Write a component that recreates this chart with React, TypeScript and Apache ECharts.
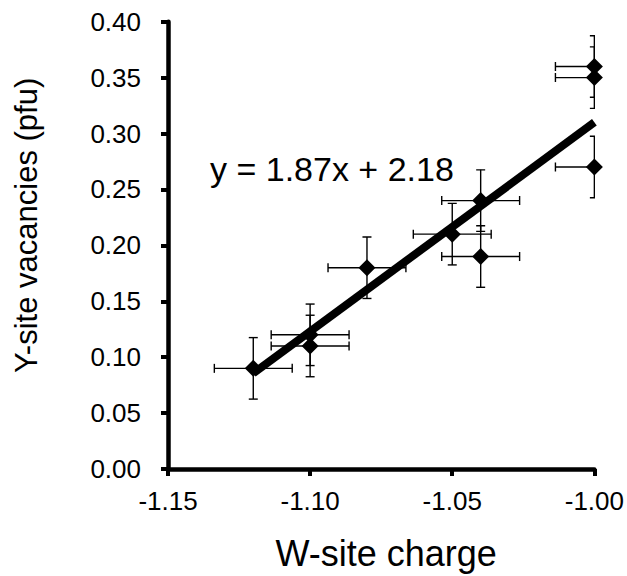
import React, { useEffect, useRef } from "react";
import * as echarts from "echarts";

const xValues = [-1.12, -1.1, -1.1, -1.08, -1.05, -1.04, -1.04, -1.0, -1.0, -1.0];
const yValues = [0.09, 0.12, 0.11, 0.18, 0.21, 0.24, 0.19, 0.36, 0.35, 0.27];
const xErrors = [0.0137, 0.0137, 0.0137, 0.0137, 0.0137, 0.0137, 0.0137, 0.0137, 0.0137, 0.0137];
const yErrors = [0.0275, 0.0275, 0.0275, 0.0275, 0.0275, 0.0275, 0.0275, 0.0275, 0.0275, 0.0275];
const fitLine = [
  [-1.12, 0.0856],
  [-1.0, 0.31],
];
const equationText = "y = 1.87x + 2.18";
const xTitle = "W-site charge";
const yTitle = "Y-site vacancies (pfu)";

const FONT = "'Liberation Sans', Arial, sans-serif";

export default function App() {
  const ref = useRef<HTMLDivElement>(null);
  useEffect(() => {
    if (!ref.current) return;
    const chart = echarts.init(ref.current, null, { renderer: "svg" });
    const points = xValues.map((x, i) => [x, yValues[i]]);
    const errData = xValues.map((x, i) => [x, yValues[i], xErrors[i], yErrors[i]]);
    chart.setOption({
      animation: false,
      backgroundColor: "#ffffff",
      grid: { left: 168, right: 32.5, top: 21.7, bottom: 105, containLabel: false },
      xAxis: {
        type: "value",
        min: -1.15,
        max: -1.0,
        interval: 0.05,
        name: xTitle,
        nameLocation: "middle",
        nameGap: 66,
        nameTextStyle: { fontFamily: FONT, fontSize: 36, color: "#000", padding: [0, 0, 0, 10] },
        axisLine: { onZero: false, lineStyle: { color: "#000", width: 4.5 } },
        axisTick: { inside: false, length: 7, lineStyle: { color: "#000", width: 4 } },
        axisLabel: {
          margin: 19,
          fontFamily: FONT,
          fontSize: 26,
          color: "#000",
          formatter: (v: number) => v.toFixed(2),
        },
        splitLine: { show: false },
      },
      yAxis: {
        type: "value",
        min: 0,
        max: 0.4,
        interval: 0.05,
        name: yTitle,
        nameLocation: "middle",
        nameRotate: 90,
        nameGap: 126,
        nameTextStyle: { fontFamily: FONT, fontSize: 31, color: "#000", padding: [0, 0, 0, 40] },
        axisLine: { onZero: false, lineStyle: { color: "#000", width: 4.5 } },
        axisTick: { inside: false, length: 7, lineStyle: { color: "#000", width: 4 } },
        axisLabel: {
          margin: 27,
          fontFamily: FONT,
          fontSize: 26,
          color: "#000",
          formatter: (v: number) => v.toFixed(2),
        },
        splitLine: { show: false },
      },
      series: [
        {
          type: "custom",
          clip: true,
          data: errData,
          encode: { x: 0, y: 1 },
          z: 2,
          renderItem: (params: any, api: any) => {
            const x = api.value(0);
            const y = api.value(1);
            const xe = api.value(2);
            const ye = api.value(3);
            const l = api.coord([x - xe, y]);
            const r = api.coord([x + xe, y]);
            const t = api.coord([x, y + ye]);
            const b = api.coord([x, y - ye]);
            const cap = 4.5;
            const style = { stroke: "#000", lineWidth: 1.4 };
            const seg = (x1: number, y1: number, x2: number, y2: number) => ({
              type: "line",
              shape: { x1, y1, x2, y2 },
              style,
            });
            return {
              type: "group",
              children: [
                seg(l[0], l[1], r[0], r[1]),
                seg(t[0], t[1], b[0], b[1]),
                seg(l[0], l[1] - cap, l[0], l[1] + cap),
                seg(r[0], r[1] - cap, r[0], r[1] + cap),
                seg(t[0] - cap, t[1], t[0] + cap, t[1]),
                seg(b[0] - cap, b[1], b[0] + cap, b[1]),
              ],
            };
          },
        },
        {
          type: "scatter",
          data: points,
          symbol: "diamond",
          symbolSize: [17, 17],
          itemStyle: { color: "#000", opacity: 1 },
          z: 3,
        },
        {
          type: "line",
          data: fitLine,
          showSymbol: false,
          symbol: "none",
          lineStyle: { color: "#000", width: 8, cap: "butt" },
          z: 4,
        },
      ],
      graphic: [
        {
          type: "text",
          left: 210,
          top: 152,
          style: { text: equationText, font: `34px ${FONT}`, fill: "#000" },
        },
      ],
    });
    return () => chart.dispose();
  }, []);
  return (
    <div
      ref={ref}
      style={{ position: "fixed", left: 0, top: 0, width: 627, height: 576, background: "#fff" }}
    />
  );
}
